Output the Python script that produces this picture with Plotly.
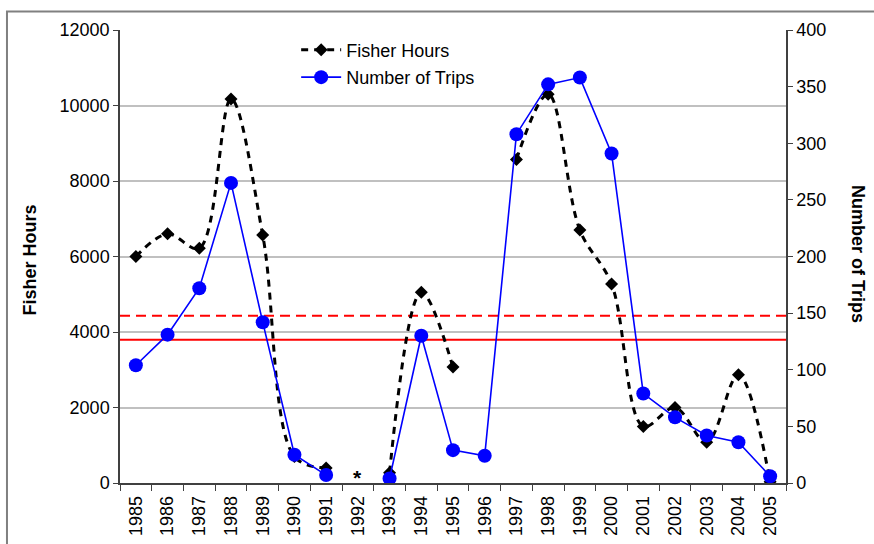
import plotly.graph_objects as go

# Annual fishery effort, 1985-2005
years = [str(y) for y in range(1985, 2006)]
fisher_hours = [6000, 6600, 6220, 10170, 6570, 700, 400, None, 270, 5050,
                3070, None, 8570, 10300, 6700, 5270, 1500, 2000, 1080, 2870, 30]
number_of_trips = [104, 131, 172, 265, 142, 25, 7, None, 4, 130,
                   29, 24, 308, 352, 358, 291, 79, 58, 42, 36, 6]

# Reference levels (long-term averages)
mean_fisher_hours = 4430
mean_trips = 126.5

# Year with no survey data, flagged with an asterisk
no_data_year = "1992"

FONT = "Liberation Sans, Arial, sans-serif"

fig = go.Figure()

fig.add_trace(go.Scatter(
    x=years, y=fisher_hours, name="Fisher Hours", yaxis="y",
    mode="lines+markers", connectgaps=False, legendgroup="a",
    line=dict(color="black", width=3, dash="7px,6px", shape="spline", smoothing=1),
    marker=dict(symbol="diamond", size=10, color="black"),
))
fig.add_trace(go.Scatter(
    x=years, y=number_of_trips, name="Number of Trips", yaxis="y2",
    mode="lines+markers", connectgaps=False, legendgroup="b",
    line=dict(color="#0000FF", width=1.6),
    marker=dict(symbol="circle", size=14, color="#0000FF"),
))

shapes = [
    dict(type="line", xref="paper", x0=0, x1=1, yref="y", y0=mean_fisher_hours,
         y1=mean_fisher_hours, line=dict(color="#FF0000", width=2, dash="10px,6px"),
         layer="between"),
    dict(type="line", xref="paper", x0=0, x1=1, yref="y2", y0=mean_trips,
         y1=mean_trips, line=dict(color="#FF0000", width=2), layer="between"),
    # chart frame
    dict(type="rect", xref="paper", yref="paper", x0=-0.1697, x1=1.3,
         y0=-0.3, y1=1.0407, line=dict(color="#808080", width=2), layer="above"),
]

annotations = [
    dict(text="<b>Fisher Hours</b>", xref="paper", yref="paper", x=-0.1344, y=0.492,
         xanchor="center", yanchor="middle", textangle=-90, showarrow=False,
         font=dict(size=18, color="black", family=FONT)),
    dict(text="<b>Number of Trips</b>", xref="paper", yref="paper", x=1.108, y=0.5055,
         xanchor="center", yanchor="middle", textangle=90, showarrow=False,
         font=dict(size=18, color="black", family=FONT)),
    # category axes place annotations by category index
    dict(text="<b>*</b>", xref="x", yref="y", x=years.index(no_data_year), y=140,
         showarrow=False, font=dict(size=21, color="black", family=FONT)),
]

axis_line = "#404040"

fig.update_layout(
    width=874, height=544,
    margin=dict(l=120, r=88, t=30, b=61, autoexpand=False),
    paper_bgcolor="white", plot_bgcolor="white",
    font=dict(family=FONT, size=18, color="black"),
    showlegend=True,
    legend=dict(x=0.2645, y=0.9966, xanchor="left", yanchor="top",
                bgcolor="rgba(0,0,0,0)", font=dict(size=18, family=FONT),
                tracegroupgap=1, itemwidth=40),
    xaxis=dict(type="category", range=[-0.5, len(years) - 0.5], tickangle=-90,
               ticks="outside", tickson="boundaries", ticklabelstandoff=4,
               automargin=False,
               ticklen=6, tickcolor=axis_line, showline=True, linecolor=axis_line,
               linewidth=1.5, showgrid=False, tickfont=dict(size=18)),
    yaxis=dict(range=[0, 12000], dtick=2000, tickformat="d", ticks="outside", ticklen=5,
               automargin=False,
               tickcolor=axis_line, showline=True, linecolor=axis_line, linewidth=1.5,
               showgrid=True, gridcolor="#C0C0C0", gridwidth=1.5, zeroline=False,
               tickfont=dict(size=18)),
    yaxis2=dict(range=[0, 400], dtick=50, overlaying="y", side="right",
                automargin=False,
                ticks="outside", ticklen=5, tickcolor=axis_line, showline=True,
                linecolor=axis_line, linewidth=1.5, showgrid=False, zeroline=False,
                tickfont=dict(size=18)),
    shapes=shapes,
    annotations=annotations,
)

fig.write_html("out.html")
